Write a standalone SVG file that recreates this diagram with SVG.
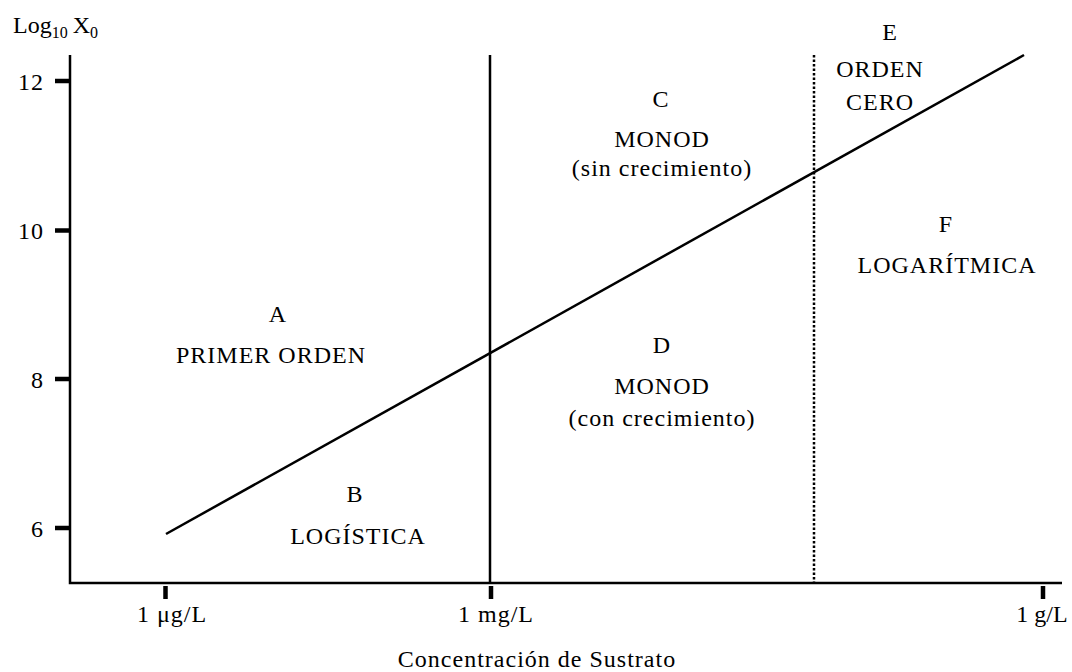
<svg xmlns="http://www.w3.org/2000/svg" width="1072" height="672" viewBox="0 0 1072 672">
<style>
text{font-family:"Liberation Serif","Times New Roman",serif;font-size:24px;fill:#000;letter-spacing:1px}
.m{text-anchor:middle}
.r{text-anchor:end}
.ax{stroke:#000;stroke-width:2.5;fill:none}
.tk{stroke:#000;stroke-width:4.5;fill:none}
.ln{stroke:#000;stroke-width:2.5;fill:none}
.dot{stroke:#000;stroke-width:2.5;fill:none;stroke-dasharray:2.5 2}
.sub{font-size:16px;letter-spacing:0}
</style>
<rect width="1072" height="672" fill="#fff"/>
<g id="axes">
<path class="ax" d="M70 55V583H1062"/>
<path class="tk" d="M55 81H70M55 230.5H70M55 379H70M55 528H70"/>
<path class="tk" d="M165.5 586V599M491 586V599M1043 586V599"/>
<text x="13" y="33" style="letter-spacing:0">Log<tspan class="sub" dy="5">10</tspan><tspan dy="-5" dx="5">X</tspan><tspan class="sub" dy="5">0</tspan></text>
<text class="r" x="44" y="90">12</text>
<text class="r" x="44" y="239">10</text>
<text class="r" x="44" y="388">8</text>
<text class="r" x="44" y="537">6</text>
<text class="m" x="172" y="622">1 μg/L</text>
<text class="m" x="496" y="622">1 mg/L</text>
<text class="m" x="1042" y="622" style="letter-spacing:0">1 g/L</text>
<text class="m" x="537" y="667">Concentración de Sustrato</text>
</g>
<g id="connectors">
<line class="ln" x1="490" y1="55" x2="490" y2="583"/>
<line class="dot" x1="814" y1="55" x2="814" y2="583"/>
<line class="ln" x1="166" y1="534" x2="1024" y2="55"/>
</g>
<g id="A"><text class="m" x="278" y="322">A</text><text class="m" x="271" y="363">PRIMER ORDEN</text></g>
<g id="B"><text class="m" x="355" y="502">B</text><text class="m" x="358" y="544">LOGÍSTICA</text></g>
<g id="C"><text class="m" x="661" y="107">C</text><text class="m" x="662" y="147">MONOD</text><text class="m" x="662" y="176">(sin crecimiento)</text></g>
<g id="D"><text class="m" x="662" y="353">D</text><text class="m" x="662" y="394">MONOD</text><text class="m" x="662" y="426">(con crecimiento)</text></g>
<g id="E"><text class="m" x="890" y="40">E</text><text class="m" x="880" y="77">ORDEN</text><text class="m" x="880" y="110">CERO</text></g>
<g id="F"><text class="m" x="946" y="232">F</text><text class="m" x="947" y="273">LOGARÍTMICA</text></g>
</svg>
